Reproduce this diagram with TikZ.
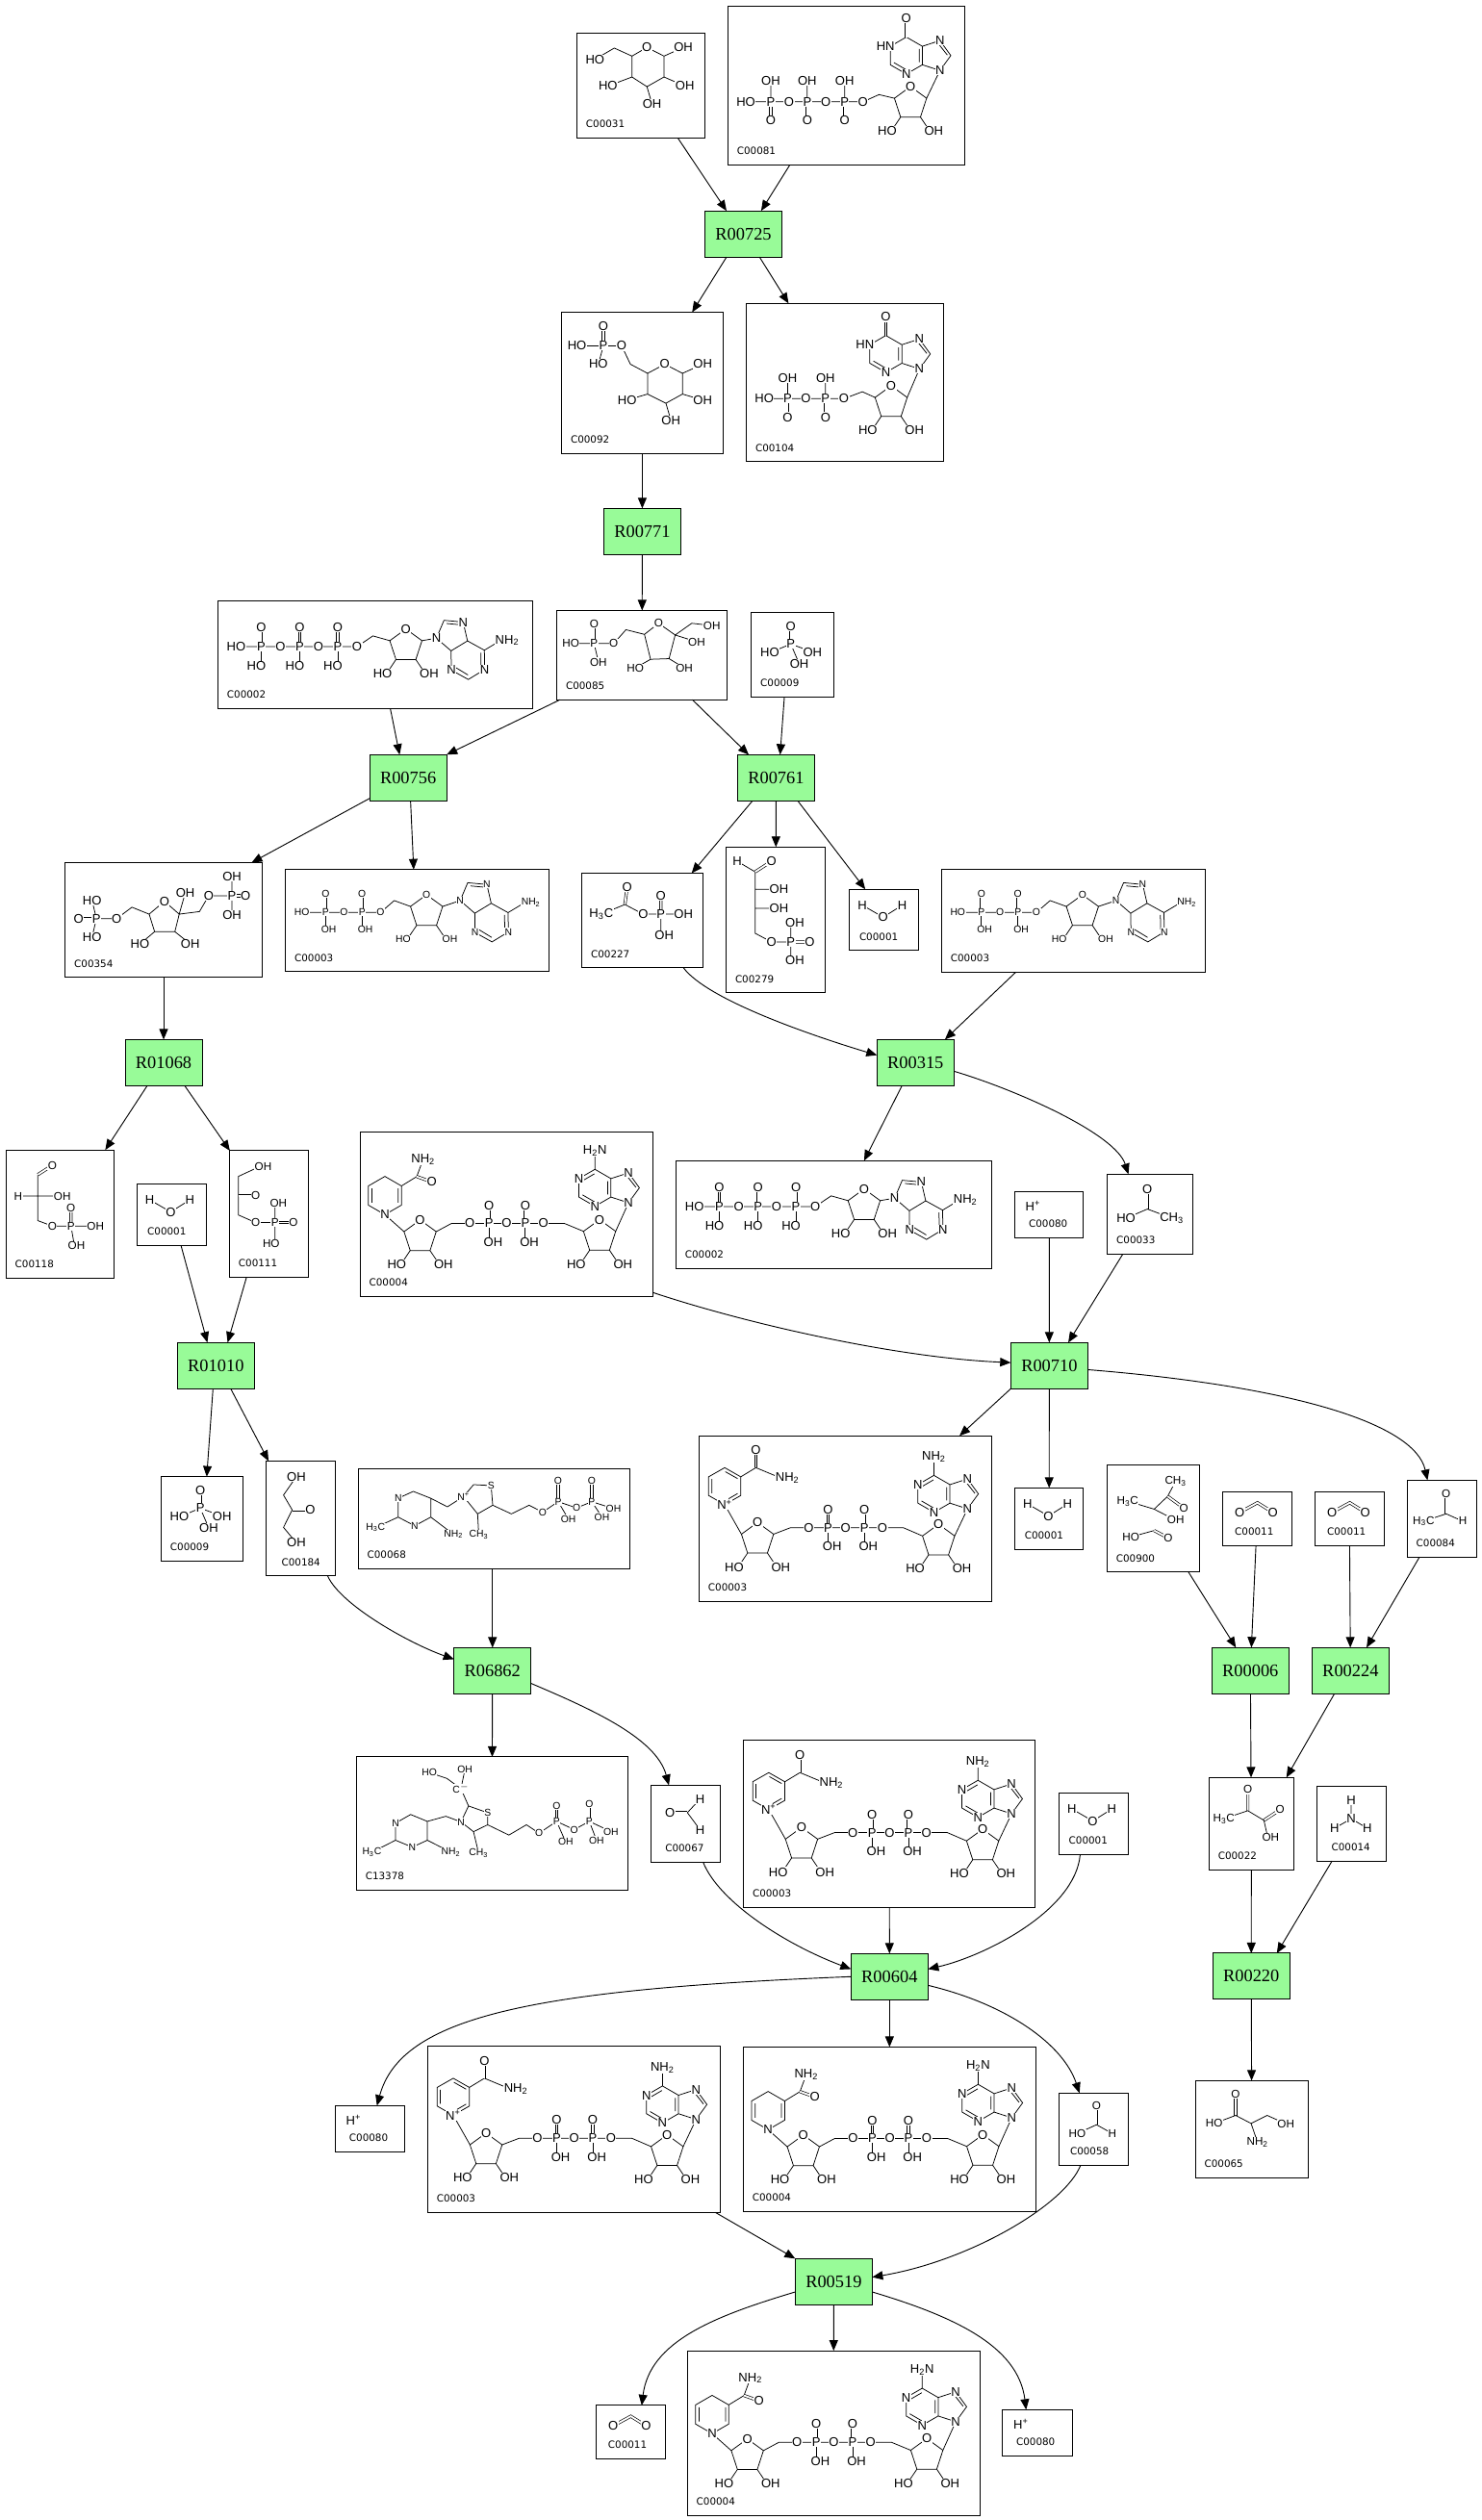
\documentclass[tikz,border=0pt]{standalone}
\usepackage{fontspec}
\setmainfont{Liberation Serif}
\setsansfont{Liberation Sans}
\newfontfamily\idfont{DejaVu Sans}
\usetikzlibrary{arrows.meta,calc}
\definecolor{reactgreen}{HTML}{98FB98}
\tikzset{
    %Define standard arrow tip
    >={Triangle[length=6.6pt,width=5.4pt]},
    %Define style for reaction boxes
    reaction/.style={
           rectangle,
           draw=black, line width=0.6pt,
           fill=reactgreen,
           minimum width=47.9pt,
           minimum height=28.7pt,
           inner sep=0pt, outer sep=0pt,
           font=\fontsize{11}{12}\selectfont,
           text centered},
    %Define style for compound boxes
    box/.style 2 args={
           rectangle,
           draw=black, line width=0.6pt,
           minimum width=#1pt,
           minimum height=#2pt,
           inner sep=0pt, outer sep=0pt},
    cid/.style={
           anchor=base west, inner sep=0pt,
           xshift=5.5pt, yshift=6.5pt,
           font=\idfont\fontsize{6.2}{7}\selectfont},
    % atoms and bonds
    atm/.style={inner sep=0.3pt, fill=white, font=\sffamily\fontsize{7.8}{8}\selectfont},
    mid atoms/.style={atm/.append style={font=\sffamily\fontsize{7}{8}\selectfont}},
    small atoms/.style={atm/.append style={font=\sffamily\fontsize{6.2}{7}\selectfont}},
    bd/.style={line width=0.45pt},
    dbd/.style={line width=0.4pt, double, double distance=1.1pt},
    % Define arrow style
    pil/.style={
           ->,
           line width=0.55pt},
    % Define parts of structures
    ribose/.pic={
        \draw[bd] (-10,-3.24) -- (0,-10.5) -- (10,-3.24) -- (6.17,8.5) -- (-6.17,8.5) -- cycle
                  (-6.17,8.5) -- (-12,17.2) (6.17,8.5) -- (12,17.2);
        \node[atm] at (0,-10.5) {O};
        \node[atm] at (-14.5,17.2) {HO};
        \node[atm] at (14.5,17.2) {OH};
    },
    purine/.pic={
        \draw[bd] (0,0) -- (-10.94,-3.55) -- (-10.94,-15.05) -- (0,-18.6) -- (6.76,-9.3) -- cycle
                  (-10.94,-3.55) -- (-20.9,2.2) -- (-30.85,-3.55) -- (-30.85,-15.05) -- (-20.9,-20.8) -- (-10.94,-15.05)
                  (-20.9,-20.8) -- (-20.9,-32.3)
                  (-0.6,-16.2) -- (4.6,-9.6) (-12.9,-5.2) -- (-12.9,-13.4) (-28.6,-4.9) -- (-21.2,-0.6)
                  (-28.6,-13.7) -- (-21.2,-18);
        \node[atm] at (0,0) {N};
        \node[atm] at (0,-18.6) {N};
        \node[atm] at (-20.9,2.2) {N};
        \node[atm] at (-30.85,-15.05) {N};
        \node[atm] at (-20.9,-32.3) {#1};
    },
    purineo/.pic={
        \draw[bd] (0,0) -- (-10.94,-3.55) -- (-10.94,-15.05) -- (0,-18.6) -- (6.76,-9.3) -- cycle
                  (-10.94,-3.55) -- (-20.9,2.2) -- (-30.85,-3.55) -- (-30.85,-15.05) -- (-20.9,-20.8) -- (-10.94,-15.05)
                  (-0.6,-16.2) -- (4.6,-9.6) (-12.9,-5.2) -- (-12.9,-13.4) (-28.6,-4.9) -- (-21.2,-0.6);
        \draw[dbd] (-20.9,-20.8) -- (-20.9,-32.3);
        \node[atm] at (0,0) {N};
        \node[atm] at (0,-18.6) {N};
        \node[atm] at (-20.9,2.2) {N};
        \node[atm] at (-33.85,-15.05) {HN};
        \node[atm] at (-20.9,-32.3) {O};
    },
    purineb/.pic={
        \draw[bd] (0,0) -- (4.7,-11.1) -- (16.6,-10) -- (19.3,1.7) -- (9.1,7.9) -- cycle
                  (9.1,7.9) -- (9.3,19.9) -- (19.8,25.7) -- (30,19.5) -- (29.8,7.5) -- (19.3,1.7)
                  (29.8,7.5) -- (40.1,1.3)
                  (6.4,-9.1) -- (15.2,-8.3) (11.2,17.8) -- (19.6,22.9) (27.6,9) -- (27.7,17.9);
        \node[atm] at (0,0) {N};
        \node[atm] at (16.6,-10) {N};
        \node[atm] at (9.3,19.9) {N};
        \node[atm] at (30,19.5) {N};
        \node[atm] at (44,1.3) {NH\textsubscript{2}};
    },
    water/.pic={
        \draw[bd] (-13.4,-9.2) -- (-0.4,-1.7) -- (11.5,-9.2);
        \node[atm] at (-13.4,-9.2) {H};
        \node[atm] at (-0.4,-1.7) {O};
        \node[atm] at (11.5,-9.2) {H};
    },
    hplus/.pic={
        \node[atm] at (-10.1,-5.3) {H\textsuperscript{+}};
    },
    cotwo/.pic={
        \draw[dbd] (-10.8,-3.9) -- (0.2,-9.9) -- (9.8,-3.9);
        \node[atm] at (-10.8,-3.9) {O};
        \node[atm] at (9.8,-3.9) {O};
    },
    phosphate/.pic={
        \draw[dbd] (-1,-17.8) -- (-1,-6.6);
        \draw[bd] (-1,-6.6) -- (-14,-1.2) (-1,-6.6) -- (12.5,-1.7) (-1,-6.6) -- (4.3,5.8);
        \node[atm] at (-1,-17.8) {O};
        \node[atm] at (-1,-6.6) {P};
        \node[atm] at (-14,-1.2) {HO};
        \node[atm] at (12.5,-1.7) {OH};
        \node[atm] at (4.3,5.8) {OH};
    },
    atp/.pic={
        \draw[bd] (-86.5,-4.9) -- (-11.4,-4.9) -- (-1.5,-11.6) -- (9,-8.64)
                  (29,-8.64) -- (38,-10.2);
        \foreach \x in {-71,-47,-23.4} {
            \draw[dbd] (\x,-4.9) -- (\x,-16.9);
            \draw[bd] (\x,-4.9) -- (\x,7);
        }
        \pic at (19,-5.4) {ribose};
        \pic at (38,-10.2) {purineb};
        \foreach \x/\lab in {-86.5/HO,-71/P,-59/O,-47/P,-35.4/O,-23.4/P,-11.4/O}
            \node[atm] at (\x,-4.9) {\lab};
        \foreach \x in {-71,-47,-23.4} {
            \node[atm] at (\x,-16.9) {O};
            \node[atm] at (\x-3,7) {HO};
        }
    },
    adp/.pic={
        \draw[bd] (-71.8,-5.1) -- (-22.9,-5.1) -- (-14.4,-12.5) -- (-4.3,-8.84)
                  (15.7,-8.84) -- (26.6,-12.5);
        \foreach \x in {-57.1,-34.4} {
            \draw[dbd] (\x,-5.1) -- (\x,-16.6);
            \draw[bd] (\x,-5.1) -- (\x,5.5);
        }
        \pic at (5.7,-5.6) {ribose};
        \pic at (26.6,-12.5) {purineb};
        \foreach \x/\lab in {-71.8/HO,-57.1/P,-45.6/O,-34.4/P,-22.9/O}
            \node[atm] at (\x,-5.1) {\lab};
        \foreach \x in {-57.1,-34.4} {
            \node[atm] at (\x,-16.6) {O};
            \node[atm] at (\x+2,5.5) {OH};
        }
    },
    nad/.pic={
        \draw[bd] (-75,-31.7) -- (-65,-26) -- (-65,-14.4) -- (-75,-8.7) -- (-85,-14.4) -- (-85,-26) -- cycle
                  (-83,-24.6) -- (-83,-15.8) (-74.6,-29.2) -- (-67,-24.9) (-67,-15.6) -- (-72.5,-12.4)
                  (-65,-26) -- (-55.6,-31.7) -- (-40,-25.2)
                  (-75,-8.7) -- (-64.6,9.66)
                  (-44.6,9.66) -- (-34,5.6) -- (36,5.6) -- (48,10.76)
                  (68,10.76) -- (76,-6.1);
        \draw[dbd] (-55.6,-31.7) -- (-55.6,-42.6);
        \foreach \x in {-10.7,11.8} {
            \draw[dbd] (\x,5.6) -- (\x,-5.7);
            \draw[bd] (\x,5.6) -- (\x,17.2);
        }
        \pic at (-54.6,12.9) {ribose};
        \pic at (58,14) {ribose};
        \pic at (76,-6.1) {purine=NH\textsubscript{2}};
        \node[atm] at (-55.6,-42.6) {O};
        \node[atm] at (-36,-25.2) {NH\textsubscript{2}};
        \node[atm] at (-75,-8.7) {N\textsuperscript{+}};
        \foreach \x/\lab in {-22.7/O,-10.7/P,0.2/O,11.8/P,23.1/O}
            \node[atm] at (\x,5.6) {\lab};
        \foreach \x in {-10.7,11.8} {
            \node[atm] at (\x,-5.7) {O};
            \node[atm] at (\x+2.5,17.2) {OH};
        }
    },
    nadh/.pic={
        \draw[bd] (-75.5,-23.4) -- (-65.2,-17.45) -- (-65.2,-5.55) -- (-75.5,0.4) -- (-85.8,-5.55) -- (-85.8,-17.45) -- cycle
                  (-83.6,-15.9) -- (-83.6,-7.1) (-67.2,-15.9) -- (-67.2,-7.1)
                  (-65.2,-17.45) -- (-55.7,-23.3) -- (-51.7,-34.1)
                  (-75.5,0.4) -- (-63.6,10.96)
                  (-43.6,10.96) -- (-34,5.8) -- (36,5.8) -- (48,10.76)
                  (68,10.76) -- (76,-7);
        \draw[dbd] (-55.7,-23.3) -- (-46.4,-20);
        \foreach \x in {-10.7,11.8} {
            \draw[dbd] (\x,5.8) -- (\x,-5.5);
            \draw[bd] (\x,5.8) -- (\x,17.4);
        }
        \pic at (-53.6,14.2) {ribose};
        \pic at (58,14) {ribose};
        \pic at (76,-7) {purine=H\textsubscript{2}N};
        \node[atm] at (-46.4,-20) {O};
        \node[atm] at (-51.7,-34.1) {NH\textsubscript{2}};
        \node[atm] at (-75.5,0.4) {N};
        \foreach \x/\lab in {-22.7/O,-10.7/P,0.2/O,11.8/P,23.1/O}
            \node[atm] at (\x,5.8) {\lab};
        \foreach \x in {-10.7,11.8} {
            \node[atm] at (\x,-5.5) {O};
            \node[atm] at (\x+2.5,17.4) {OH};
        }
    }
}

\begin{document}
\begin{tikzpicture}[x=1pt,y=-1pt]
\useasboundingbox (0,0) rectangle (921,1567.3);
 %reaction nodes
\node[reaction] (R00725) at (462.3,145.5) {R00725};
\node[reaction] (R00771) at (399.4,330.55) {R00771};
\node[reaction] (R00756) at (253.8,483.7) {R00756};
\node[reaction] (R00761) at (482.6,483.75) {R00761};
\node[reaction] (R01068) at (101.75,660.9) {R01068};
\node[reaction] (R00315) at (569.3,660.85) {R00315};
\node[reaction] (R01010) at (134.25,849.3) {R01010};
\node[reaction] (R00710) at (652.5,849.35) {R00710};
\node[reaction] (R06862) at (306.25,1039.15) {R06862};
\node[reaction] (R00006) at (777.55,1039.05) {R00006};
\node[reaction] (R00224) at (839.8,1039.05) {R00224};
\node[reaction] (R00604) at (553.15,1229.35) {R00604};
\node[reaction] (R00220) at (778.1,1229.15) {R00220};
\node[reaction] (R00519) at (518.45,1419.05) {R00519};
 %compound nodes
\node[box={79.6}{65.4}] (c31) at (398.5,53.1) {};
\node[box={147.2}{98.9}] (c81) at (526.2,53.05) {};
\node[box={100.4}{87.8}] (c92) at (399.4,238.1) {};
\node[box={122.5}{98.5}] (c104) at (525.35,237.95) {};
\node[box={195.8}{67}] (c2a) at (233.4,407.1) {};
\node[box={106.1}{55.5}] (c85) at (399.25,407.45) {};
\node[box={51.1}{52.7}] (c9a) at (492.75,407.15) {};
\node[box={122.5}{71.5}] (c354) at (101.75,572.25) {};
\node[box={164.1}{63.6}] (c3a) at (259.55,572.6) {};
\node[box={75.2}{58.9}] (c227) at (399.4,572.55) {};
\node[box={61.8}{90.7}] (c279) at (482.4,572.15) {};
\node[box={42.8}{38.1}] (c1a) at (549.6,572.15) {};
\node[box={163.8}{64}] (c3b) at (667.4,572.6) {};
\node[box={67.1}{79.7}] (c118) at (37.25,755.05) {};
\node[box={43.1}{38.3}] (c1b) at (106.55,755.45) {};
\node[box={48.9}{78.5}] (c111) at (167.15,754.95) {};
\node[box={181.9}{102.1}] (c4a) at (314.85,755.05) {};
\node[box={196.1}{66.9}] (c2b) at (518.35,755.35) {};
\node[box={42.7}{28.7}] (c80a) at (652.45,755.35) {};
\node[box={53.4}{49.7}] (c33) at (715.3,755.15) {};
\node[box={50.7}{52.4}] (c9b) at (125.55,944.6) {};
\node[box={43}{71.5}] (c184) at (186.9,944.45) {};
\node[box={169.2}{62.3}] (c68) at (307.3,944.45) {};
\node[box={181.9}{103}] (c3c) at (525.65,944.5) {};
\node[box={42.8}{38.3}] (c1c) at (652.4,944.55) {};
\node[box={57.4}{66.8}] (c900) at (717.1,944.4) {};
\node[box={43.1}{33.4}] (c11a) at (781.75,944.5) {};
\node[box={43.1}{33.4}] (c11b) at (839.15,944.5) {};
\node[box={43.2}{47.8}] (c84) at (896.6,944.5) {};
\node[box={168.7}{82.8}] (c13378) at (305.95,1134.1) {};
\node[box={42.9}{47.9}] (c67) at (426.45,1134.25) {};
\node[box={181.5}{104.1}] (c3d) at (553.05,1134.15) {};
\node[box={42.9}{38.3}] (c1d) at (679.95,1134.25) {};
\node[box={52.7}{57.3}] (c22) at (778.15,1134.15) {};
\node[box={43.1}{46.5}] (c14) at (840.35,1134.15) {};
\node[box={43}{28.6}] (c80b) at (230,1323.9) {};
\node[box={181.9}{103.5}] (c3e) at (356.85,1324.25) {};
\node[box={181.9}{102.1}] (c4b) at (553.15,1324.15) {};
\node[box={43.1}{44.9}] (c58) at (680.05,1324.25) {};
\node[box={70.2}{60.5}] (c65) at (778.4,1324.25) {};
\node[box={43.1}{33.3}] (c11c) at (392.05,1512.65) {};
\node[box={181.9}{102.3}] (c4c) at (518.35,1513.15) {};
\node[box={43.4}{28.6}] (c80c) at (645,1513) {};
 %compound ids
\node[cid] at (c31.south west) {C00031};
\node[cid] at (c81.south west) {C00081};
\node[cid] at (c92.south west) {C00092};
\node[cid] at (c104.south west) {C00104};
\node[cid] at (c2a.south west) {C00002};
\node[cid] at (c85.south west) {C00085};
\node[cid] at (c9a.south west) {C00009};
\node[cid] at (c354.south west) {C00354};
\node[cid] at (c3a.south west) {C00003};
\node[cid] at (c227.south west) {C00227};
\node[cid] at (c279.south west) {C00279};
\node[cid,xshift=0.5pt] at (c1a.south west) {C00001};
\node[cid] at (c3b.south west) {C00003};
\node[cid] at (c118.south west) {C00118};
\node[cid,xshift=1pt] at (c1b.south west) {C00001};
\node[cid] at (c111.south west) {C00111};
\node[cid] at (c4a.south west) {C00004};
\node[cid] at (c2b.south west) {C00002};
\node[cid,xshift=3pt] at (c80a.south west) {C00080};
\node[cid] at (c33.south west) {C00033};
\node[cid] at (c9b.south west) {C00009};
\node[cid,xshift=4pt] at (c184.south west) {C00184};
\node[cid] at (c68.south west) {C00068};
\node[cid] at (c3c.south west) {C00003};
\node[cid,xshift=0.5pt] at (c1c.south west) {C00001};
\node[cid] at (c900.south west) {C00900};
\node[cid,xshift=2pt] at (c11a.south west) {C00011};
\node[cid,xshift=2pt] at (c11b.south west) {C00011};
\node[cid] at (c84.south west) {C00084};
\node[cid] at (c13378.south west) {C13378};
\node[cid,xshift=3pt] at (c67.south west) {C00067};
\node[cid] at (c3d.south west) {C00003};
\node[cid,xshift=0.5pt] at (c1d.south west) {C00001};
\node[cid] at (c22.south west) {C00022};
\node[cid,xshift=3.5pt] at (c14.south west) {C00014};
\node[cid,xshift=3pt] at (c80b.south west) {C00080};
\node[cid] at (c3e.south west) {C00003};
\node[cid] at (c4b.south west) {C00004};
\node[cid,xshift=1.3pt] at (c58.south west) {C00058};
\node[cid] at (c65.south west) {C00065};
\node[cid,xshift=2pt] at (c11c.south west) {C00011};
\node[cid] at (c4c.south west) {C00004};
\node[cid,xshift=3pt] at (c80c.south west) {C00080};
 %structures
\begin{scope}[shift={(c31.center)}]
\draw[bd] (-5.5,-18.2) -- (3.8,-23.6) -- (14.4,-18.2) -- (14.4,-5.2) -- (3.8,0.8) -- (-5.5,-5.2) -- cycle
          (-5.5,-18.2) -- (-16.5,-23.2) -- (-28.5,-16.2) (14.4,-18.2) -- (26.4,-23.6)
          (-5.5,-5.2) -- (-20.4,0.4) (14.4,-5.2) -- (27.4,0.4) (3.8,0.8) -- (7,11.7);
\foreach \x/\y/\lab in {3.8/-23.6/O,-28.5/-16.2/HO,26.4/-23.6/OH,-20.4/0.4/HO,27.4/0.4/OH,7/11.7/OH}
    \node[atm] at (\x,\y) {\lab};
\end{scope}
\begin{scope}[shift={(c81.center)}]
\draw[bd] (-62.4,10.3) -- (10.4,10.3) -- (20.4,5.8) -- (30,8.06)
          (-46.9,10.3) -- (-46.9,-2.8) (-24.2,10.3) -- (-24.2,-2.8) (-1,10.3) -- (-1,-2.8)
          (50,8.06) -- (58.3,-9.2);
\draw[dbd] (-46.9,10.3) -- (-46.9,21.7) (-24.2,10.3) -- (-24.2,21.7) (-1,10.3) -- (-1,21.7);
\pic at (40,11.3) {ribose};
\pic at (58.3,-9.2) {purineo};
\foreach \x/\lab in {-62.4/HO,-46.9/P,-35.5/O,-24.2/P,-12.6/O,-1/P,10.4/O}
    \node[atm] at (\x,10.3) {\lab};
\foreach \x in {-46.9,-24.2,-1} {
    \node[atm] at (\x,-2.8) {OH};
    \node[atm] at (\x,21.7) {O};
}
\end{scope}
\begin{scope}[shift={(c92.center)}]
\draw[bd] (-40.6,-23) -- (-12.8,-23) -- (-7.4,-11.6) -- (3.3,-5.9) (-24.2,-23) -- (-27.3,-11.6)
          (3.3,-5.9) -- (14,-11.6) -- (25,-5.9) -- (25,7) -- (14.7,12.7) -- (3.3,7) -- cycle
          (25,-5.9) -- (37.6,-11.6) (25,7) -- (37.6,10.7) (3.3,7) -- (-9.4,10.7) (14.7,12.7) -- (17.8,23.3);
\draw[dbd] (-24.2,-23) -- (-24.2,-35.4);
\foreach \x/\y/\lab in {-40.6/-23/HO,-24.2/-23/P,-12.8/-23/O,-24.2/-35.4/O,-27.3/-11.6/HO,14/-11.6/O,37.6/-11.6/OH,37.6/10.7/OH,-9.4/10.7/HO,17.8/23.3/OH}
    \node[atm] at (\x,\y) {\lab};
\end{scope}
\begin{scope}[shift={(c104.center)}]
\draw[bd] (-50.1,10) -- (-0.5,10) -- (10.9,5.7) -- (18.8,9.26)
          (-35.6,10) -- (-35.6,-2.9) (-12,10) -- (-12,-2.9) (38.8,9.26) -- (46.4,-8.5);
\draw[dbd] (-35.6,10) -- (-35.6,21.5) (-12,10) -- (-12,21.5);
\pic at (28.8,12.5) {ribose};
\pic at (46.4,-8.5) {purineo};
\foreach \x/\lab in {-50.1/HO,-35.6/P,-24.2/O,-12/P,-0.5/O}
    \node[atm] at (\x,10) {\lab};
\foreach \x in {-35.6,-12} {
    \node[atm] at (\x,-2.9) {OH};
    \node[atm] at (\x,21.5) {O};
}
\end{scope}
\pic at (c2a.center) {atp};
\begin{scope}[shift={(c85.center)},mid atoms]
\draw[bd] (-44.3,-7.2) -- (-17.6,-7.2) -- (-10,-15.8) -- (1.5,-12.9) (-29.8,-7.2) -- (-27.1,4.3)
          (1.5,-12.9) -- (10.3,-19.8) -- (20.6,-12.5) -- (16.8,2.2) -- (5.3,2.6) -- cycle
          (20.6,-12.5) -- (30.9,-19.8) -- (43.4,-18.4) (20.6,-12.5) -- (34,-8.3)
          (5.3,2.6) -- (-4.2,8) (16.8,2.2) -- (26.3,8);
\draw[dbd] (-29.8,-7.2) -- (-29.8,-19.3);
\foreach \x/\y/\lab in {-44.3/-7.2/HO,-29.8/-7.2/P,-17.6/-7.2/O,-29.8/-19.3/O,-27.1/4.3/OH,10.3/-19.8/O,43.4/-18.4/OH,34/-8.3/OH,-4.2/8/HO,26.3/8/OH}
    \node[atm] at (\x,\y) {\lab};
\end{scope}
\pic at (c9a.center) {phosphate};
\begin{scope}[shift={(c354.center)}]
\draw[bd] (-44.5,-12.3) -- (-41.8,-0.9) -- (-29.2,-0.9) -- (-19.7,-8) -- (-9,-3.7) (-41.8,-0.9) -- (-44.5,10.6)
          (-9,-3.7) -- (0.5,-11.7) -- (9.7,-3.7) -- (7,7.2) -- (-5.6,7.2) -- cycle
          (-5.6,7.2) -- (-14.7,14.9) (7,7.2) -- (16.6,14.9) (9.7,-3.7) -- (13.5,-17.1)
          (9.7,-3.7) -- (22.3,-5.3) -- (28,-15.1) -- (42.5,-15.1) -- (42.5,-27.1) (42.5,-15.1) -- (42.5,-3.1);
\draw[dbd] (-52.9,-0.9) -- (-41.8,-0.9) (42.5,-15.1) -- (51,-15.1);
\foreach \x/\y/\lab in {-44.5/-12.3/HO,-52.9/-0.9/O,-41.8/-0.9/P,-29.2/-0.9/O,-44.5/10.6/HO,0.5/-11.7/O,-14.7/14.9/HO,16.6/14.9/OH,13.5/-17.1/OH,28/-15.1/O,42.5/-15.1/P,42.5/-27.1/OH,51/-15.1/O,42.5/-3.1/OH}
    \node[atm] at (\x,\y) {\lab};
\end{scope}
\pic[small atoms] at (c3a.center) {adp};
\begin{scope}[shift={(c227.center)}]
\draw[bd] (-25.5,-4) -- (-10.8,-10) -- (0.6,-4) -- (11.6,-4) -- (25.6,-4) (11.6,-4) -- (11.6,9);
\draw[dbd] (-10.8,-10) -- (-9.4,-21) (11.6,-4) -- (11.6,-15.4);
\foreach \x/\y/\lab in {-25.5/-4/H\textsubscript{3}C,-9.4/-21/O,0.6/-4/O,11.6/-4/P,11.6/-15.4/O,25.6/-4/OH,13.6/9/OH}
    \node[atm] at (\x,\y) {\lab};
\end{scope}
\begin{scope}[shift={(c279.center)}]
\draw[bd] (-24,-36.5) -- (-12.8,-29.9) -- (-12.8,8.3) -- (-2.6,13.7) -- (9.3,13.7)
          (-12.8,-19.1) -- (-0.3,-19.1) (-12.8,-7.2) -- (-0.3,-7.2) (9.3,13.7) -- (9.3,1.9) (9.3,13.7) -- (9.3,25.3);
\draw[dbd] (-12.8,-29.9) -- (-2.6,-36.5) (9.3,13.7) -- (21.2,13.7);
\foreach \x/\y/\lab in {-24/-36.5/H,-2.6/-36.5/O,2/-19.1/OH,2/-7.2/OH,-2.6/13.7/O,9.3/13.7/P,21.2/13.7/O,11.9/1.9/OH,11.9/25.3/OH}
    \node[atm] at (\x,\y) {\lab};
\end{scope}
\pic at (c1a.center) {water};
\pic[small atoms] at (c3b.center) {adp};
\begin{scope}[shift={(c118.center)},mid atoms]
\draw[bd] (-13.7,-24.5) -- (-13.7,4.1) -- (-4.7,7.5) -- (22.1,7.5) (-13.7,-11.2) -- (-26,-11.2)
          (-13.7,-11.2) -- (0.2,-11.2) (6.9,7.5) -- (9,19.5);
\draw[dbd] (-13.7,-24.5) -- (-4.7,-30.3) (6.9,7.5) -- (6.9,-3.9);
\foreach \x/\y/\lab in {-4.7/-30.3/O,-26/-11.2/H,1.5/-11.2/OH,-4.7/7.5/O,6.9/7.5/P,6.9/-3.9/O,22.1/7.5/OH,10.3/19.5/OH}
    \node[atm] at (\x,\y) {\lab};
\end{scope}
\pic at (c1b.center) {water};
\begin{scope}[shift={(c111.center)},mid atoms]
\draw[bd] (-5.5,-29.5) -- (-18.9,-23.3) -- (-18.9,0.7) -- (-8.2,5.4) -- (3.8,5.4)
          (3.8,5.4) -- (3.8,-6.8) (3.8,5.4) -- (3.8,18.4);
\draw[dbd] (-18.9,-11.2) -- (-8.2,-11.2) (3.8,5.4) -- (15.3,5.4);
\foreach \x/\y/\lab in {-3.5/-29.5/OH,-8.2/-11.2/O,-8.2/5.4/O,3.8/5.4/P,6/-6.8/OH,15.3/5.4/O,1.5/18.4/HO}
    \node[atm] at (\x,\y) {\lab};
\end{scope}
\pic at (c4a.center) {nadh};
\pic at (c2b.center) {atp};
\pic at (c80a.center) {hplus};
\begin{scope}[shift={(c33.center)}]
\draw[dbd] (-1.8,-15.5) -- (-1.8,-3.2);
\draw[bd] (-15.1,2.5) -- (-1.8,-3.2) -- (13.4,2.5);
\foreach \x/\y/\lab in {-1.8/-15.5/O,-15.1/2.5/HO,13.4/2.5/CH\textsubscript{3}}
    \node[atm] at (\x,\y) {\lab};
\end{scope}
\pic at (c9b.center) {phosphate};
\begin{scope}[shift={(c184.center)}]
\draw[bd] (-2.6,-26.1) -- (-10.6,-14.6) -- (-5.2,-5.4) -- (-10.6,5.5) -- (-2.6,15.1);
\draw[dbd] (-5.2,-5.4) -- (6,-5.4);
\foreach \x/\y/\lab in {-2.6/-26.1/OH,6/-5.4/O,-2.6/15.1/OH}
    \node[atm] at (\x,\y) {\lab};
\end{scope}
\begin{scope}[shift={(c68.center)},small atoms]
\draw[bd] (-59.7,-12.6) -- (-50.3,-16.9) -- (-39.4,-12.6) -- (-39.4,-0.9) -- (-49.4,4.5) -- (-59.7,-0.9) -- cycle
          (-59.7,-0.9) -- (-73.8,5.6) (-39.4,-0.9) -- (-25.3,9.8) (-39.4,-12.6) -- (-29.1,-7.3) -- (-19,-13.7)
          (-19,-13.7) -- (-12.8,-21.1) -- (-1.9,-20.5) -- (-0.9,-8.3) -- (-10.3,-2.9) -- cycle
          (-10.3,-2.9) -- (-9.6,9.8)
          (-0.9,-8.3) -- (10.7,-2.9) -- (21.7,-8.3) -- (30.1,-4) -- (39.8,-10.5) -- (51.3,-6.6) -- (60.7,-10.5) -- (74.2,-6.2)
          (39.8,-10.5) -- (46.1,0.2) (60.7,-10.5) -- (67,-1);
\draw[dbd] (39.8,-10.5) -- (39.8,-23.3) (60.7,-10.5) -- (60.7,-23.3);
\foreach \x/\y/\lab in {-59.7/-12.6/N,-49.4/4.5/N,-73.8/5.6/H\textsubscript{3}C,-25.3/9.8/NH\textsubscript{2},-19/-13.7/N\textsuperscript{+},-1.9/-20.5/S,-9.6/9.8/CH\textsubscript{3},30.1/-4/O,39.8/-10.5/P,39.8/-23.3/O,46.1/0.2/OH,51.3/-6.6/O,60.7/-10.5/P,60.7/-23.3/O,74.2/-6.2/OH,67/-1/OH}
    \node[atm] at (\x,\y) {\lab};
\end{scope}
\pic at (c3c.center) {nad};
\pic at (c1c.center) {water};
\begin{scope}[shift={(c900.center)},mid atoms]
\draw[bd] (-15.9,-10.8) -- (0.6,-5.8) -- (9,-13.8) -- (14,-23.2) (0.6,-5.8) -- (14,1.1) (-13.9,11.5) -- (0.6,7.5);
\draw[dbd] (9,-13.8) -- (19,-6.5) (0.6,7.5) -- (9.4,12.1);
\foreach \x/\y/\lab in {-15.9/-10.8/H\textsubscript{3}C,14/-23.2/CH\textsubscript{3},19/-6.5/O,14/1.1/OH,-13.9/11.5/HO,9.4/12.1/O}
    \node[atm] at (\x,\y) {\lab};
\end{scope}
\pic at (c11a.center) {cotwo};
\pic at (c11b.center) {cotwo};
\begin{scope}[shift={(c84.center)},mid atoms]
\draw[dbd] (2.7,-15.3) -- (2.7,-3);
\draw[bd] (2.7,-3) -- (-11.3,1.6) (2.7,-3) -- (13,1.6);
\foreach \x/\y/\lab in {2.7/-15.3/O,-11.3/1.6/H\textsubscript{3}C,13/1.6/H}
    \node[atm] at (\x,\y) {\lab};
\end{scope}
\begin{scope}[shift={(c13378.center)},small atoms]
\draw[bd] (-60,-0.2) -- (-50.6,-5.6) -- (-40.2,-1.3) -- (-40.2,10.4) -- (-49.6,14.7) -- (-60,10.4) -- cycle
          (-60,10.4) -- (-74.7,17.9) (-40.2,10.4) -- (-25.5,17.9) (-40.2,-1.3) -- (-28.7,-4.5) -- (-19.3,-1)
          (-19.3,-1) -- (-14.6,-10.9) -- (-2.7,-6.7) -- (-2.7,0.8) -- (-11.5,5.1) -- cycle
          (-11.5,5.1) -- (-8.3,18.4) (-14.6,-10.9) -- (-19.3,-21.6) -- (-16.8,-33.8)
          (-19.3,-21.6) -- (-28,-28) -- (-39,-31.7)
          (-2.7,0.8) -- (10.5,7.2) -- (21.4,0.8) -- (29.3,6) -- (40.2,-1.3) -- (51.1,3.8) -- (60.5,-1.3) -- (74,5)
          (40.2,-1.3) -- (45.8,11.5) (60.5,-1.3) -- (65,10.4);
\draw[dbd] (40.2,-1.3) -- (40.2,-10.9) (60.5,-1.3) -- (60.5,-12);
\foreach \x/\y/\lab in {-60/-0.2/N,-49.6/14.7/N,-74.7/17.9/H\textsubscript{3}C,-25.5/17.9/NH\textsubscript{2},-19.3/-1/N,-2.7/-6.7/S,-8.3/18.4/CH\textsubscript{3},-19.3/-21.6/C\textsuperscript{$-$},-16.8/-33.8/OH,-39/-31.7/HO,29.3/6/O,40.2/-1.3/P,40.2/-10.9/O,45.8/11.5/OH,51.1/3.8/O,60.5/-1.3/P,60.5/-12/O,74/5/OH,65/10.4/OH}
    \node[atm] at (\x,\y) {\lab};
\end{scope}
\begin{scope}[shift={(c67.center)}]
\draw[dbd] (-9.9,-6.9) -- (1,-6.9);
\draw[bd] (1,-6.9) -- (8.9,-15.4) (1,-6.9) -- (8.9,3.8);
\foreach \x/\y/\lab in {-9.9/-6.9/O,8.9/-15.4/H,8.9/3.8/H}
    \node[atm] at (\x,\y) {\lab};
\end{scope}
\pic at (c3d.center) {nad};
\pic at (c1d.center) {water};
\begin{scope}[shift={(c22.center)},mid atoms]
\draw[dbd] (-2.2,-21.1) -- (-2.2,-8) (7.8,-2) -- (17.8,-8.6);
\draw[bd] (-17.1,-3) -- (-2.2,-8) -- (7.8,-2) -- (10.2,8.5);
\foreach \x/\y/\lab in {-2.2/-21.1/O,-17.1/-3/H\textsubscript{3}C,17.8/-8.6/O,12/8.5/OH}
    \node[atm] at (\x,\y) {\lab};
\end{scope}
\begin{scope}[shift={(c14.center)}]
\draw[bd] (-0.1,-14.7) -- (-0.1,-3) -- (-10.5,2.9) (-0.1,-3) -- (9.9,2.9);
\foreach \x/\y/\lab in {-0.1/-14.7/H,-0.1/-3/N,-10.5/2.9/H,9.9/2.9/H}
    \node[atm] at (\x,\y) {\lab};
\end{scope}
\pic at (c80b.center) {hplus};
\pic at (c3e.center) {nad};
\pic at (c4b.center) {nadh};
\begin{scope}[shift={(c58.center)},mid atoms]
\draw[dbd] (1.8,-14.8) -- (1.8,-2.8);
\draw[bd] (1.8,-2.8) -- (-10.2,2.7) (1.8,-2.8) -- (11.7,2.7);
\foreach \x/\y/\lab in {1.8/-14.8/O,-10.2/2.7/HO,11.7/2.7/H}
    \node[atm] at (\x,\y) {\lab};
\end{scope}
\begin{scope}[shift={(c65.center)},mid atoms]
\draw[dbd] (-10,-21.6) -- (-10,-8.6);
\draw[bd] (-23.4,-3.6) -- (-10,-8.6) -- (-0.4,-3.6) -- (9.6,-8.6) -- (21.2,-3.4) (-0.4,-3.6) -- (3.6,8.2);
\foreach \x/\y/\lab in {-10/-21.6/O,-23.4/-3.6/HO,3.6/8.2/NH\textsubscript{2},21.2/-3.4/OH}
    \node[atm] at (\x,\y) {\lab};
\end{scope}
\pic at (c11c.center) {cotwo};
\pic at (c4c.center) {nadh};
\pic at (c80c.center) {hplus};
 %edges
\path[pil]
    ($(c31.south)+(23,0)$) edge ($(R00725.north)+(-10.5,0)$)
    ($(c81.south)+(-35,0)$) edge ($(R00725.north)+(11,0)$)
    ($(R00725.south)+(-10.5,0)$) edge ($(c92.north)+(31,0)$)
    ($(R00725.south)+(10,0)$) edge ($(c104.north)+(-35,0)$)
    (c92) edge (R00771)
    (R00771) edge (c85)
    ($(c2a.south)+(9.3,0)$) edge ($(R00756.north)+(-5.3,0)$)
    ($(c85.south)+(-51,0)$) edge (R00756.north east)
    ($(c85.south)+(31.3,0)$) edge ($(R00761.north)+(-17,0)$)
    ($(c9a.south)+(-5,0)$) edge ($(R00761.north)+(2.5,0)$)
    ($(R00756.south west)+(0,-1.5)$) edge ($(c354.north)+(54.7,0)$)
    ($(R00756.south)+(1.5,0)$) edge ($(c3a.north)+(-2.3,0)$)
    ($(R00761.south)+(-14.7,0)$) edge ($(c227.north)+(30.7,0)$)
    (R00761) edge (c279)
    ($(R00761.south)+(13.5,0)$) edge ($(c1a.north)+(-11.5,0)$)
    (c354) edge (R01068)
    ($(c3b.south)+(-35.7,0)$) edge ($(R00315.north)+(18.3,0)$)
    ($(R01068.south)+(-10.2,0)$) edge ($(c118.north)+(28.2,0)$)
    ($(R01068.south)+(13.1,0)$) edge ($(c111.north)+(-24.2,0)$)
    ($(c1b.south)+(6,0)$) edge ($(R01010.north)+(-5.3,0)$)
    ($(c111.south)+(-13.8,0)$) edge ($(R01010.north)+(7.3,0)$)
    ($(R00315.south)+(-8.4,0)$) edge ($(c2b.north)+(19,0)$)
    (c80a) edge (R00710)
    ($(c33.south)+(-17.1,0)$) edge ($(R00710.north)+(11.8,0)$)
    ($(R01010.south)+(-1.8,0)$) edge ($(c9b.north)+(3,0)$)
    ($(R01010.south)+(9.2,0)$) edge ($(c184.north)+(-19.9,0)$)
    (R00710.south west) edge ($(c3c.north)+(71,0)$)
    (R00710) edge (c1c)
    (c68.south -| R06862.north) edge (R06862.north)
    ($(c900.south)+(22,0)$) edge ($(R00006.north)+(-9,0)$)
    (c11a) edge (R00006)
    (c11b) edge (R00224)
    ($(c84.south)+(-13.9,0)$) edge ($(R00224.north)+(10,0)$)
    (R06862) edge (c13378)
    (R00006) edge (c22)
    ($(R00224.south)+(-10,0)$) edge ($(c22.north)+(21.8,0)$)
    (c3d) edge (R00604)
    (c22) edge (R00220)
    ($(c14.south)+(-12,0)$) edge ($(R00220.north)+(15.9,0)$)
    (R00220) edge (c65)
    (R00604) edge (c4b)
    ($(c3e.south)+(88,0)$) edge (R00519.north west)
    (R00519) edge (c4c);
\draw[pil] ($(c227.south)+(25.7,0)$) .. controls +(15,20) and +(-40,-12) .. ($(R00315.west)+(0,-4.6)$);
\draw[pil] ($(R00315.east)+(0,5.4)$) .. controls +(40,12) and +(-8,-25) .. ($(c33.north)+(-13.6,0)$);
\draw[pil] ($(c4a.east)+(0,48.75)$) .. controls +(60,20) and +(-70,-3) .. ($(R00710.west)+(0,-1.9)$);
\draw[pil] ($(R00710.east)+(0,2.5)$) .. controls +(124,10) and +(-8,-36) .. ($(c84.north)+(-8.9,0)$);
\draw[pil] ($(c184.south)+(16.9,0)$) .. controls +(8,18) and +(-28,-10) .. ($(R06862.west)+(0,-7.2)$);
\draw[pil] ($(R06862.east)+(0,7.8)$) .. controls +(35,15) and +(-8,-30) .. ($(c67.north)+(-10.5,0)$);
\draw[pil] ($(c67.south)+(10.8,0)$) .. controls +(10,25) and +(-40,-15) .. ($(R00604.west)+(0,-4.7)$);
\draw[pil] ($(c1d.south)+(-8.25,0)$) .. controls +(-3,35) and +(35,-8) .. ($(R00604.east)+(0,-4.7)$);
\draw[pil] (R00604.west) .. controls +(-200,8) and +(15,-55) .. ($(c80b.north)+(4.4,0)$);
\draw[pil] ($(R00604.east)+(0,5.4)$) .. controls +(50,12) and +(-10,-30) .. ($(c58.north)+(-8.75,0)$);
\draw[pil] ($(c58.south)+(-8.1,0)$) .. controls +(-10,25) and +(60,-10) .. ($(R00519.east)+(0,-2.8)$);
\draw[pil] ($(R00519.west)+(0,6.4)$) .. controls +(-50,15) and +(5,-40) .. ($(c11c.north)+(7,0)$);
\draw[pil] ($(R00519.east)+(0,6.4)$) .. controls +(50,15) and +(-5,-40) .. ($(c80c.north)+(-6.9,0)$);
\end{tikzpicture}
\end{document}
